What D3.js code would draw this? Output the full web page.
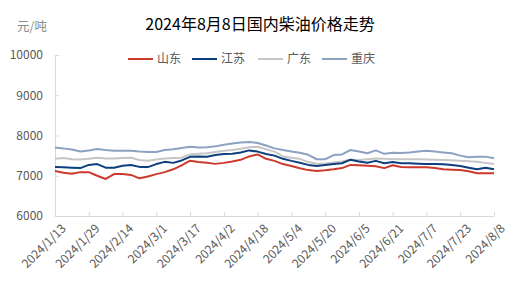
<!DOCTYPE html>
<html lang="zh">
<head>
    <meta charset="UTF-8">
    <title>2024年8月8日国内柴油价格走势</title>
    <script src="https://d3js.org/d3.v7.min.js"></script>
    <style>
        body { margin: 0; background: #fff; }
        text { font-family: "Noto Sans CJK SC", "Noto Sans", sans-serif; }
        .axis path, .axis line { stroke: #d9d9d9; }
        .axis text { fill: #595959; font-size: 12px; }
        .series { fill: none; stroke-width: 2; stroke-linejoin: round; }
    </style>
</head>
<body>
<svg width="521" height="295"></svg>

<script>
    // sample dates: every 4 days from 2024/1/13 to 2024/8/8
    const startDate = new Date(2024, 0, 13);
    const endDate   = new Date(2024, 7, 8);
    const dates = d3.timeDay.range(startDate, d3.timeDay.offset(endDate, 1), 4);

    const tickLabels = ["2024/1/13", "2024/1/29", "2024/2/14", "2024/3/1", "2024/3/17",
                        "2024/4/2", "2024/4/18", "2024/5/4", "2024/5/20", "2024/6/5",
                        "2024/6/21", "2024/7/7", "2024/7/23", "2024/8/8"];

    const seriesNames = ["山东", "江苏", "广东", "重庆"];

    const shandong = [7118, 7076, 7050, 7090, 7090, 7000, 6920, 7043, 7043, 7020,
                      6936, 6980, 7040, 7090, 7160, 7260, 7374, 7340, 7324, 7295,
                      7320, 7355, 7395, 7480, 7530, 7420, 7370, 7290, 7240, 7185,
                      7140, 7118, 7135, 7160, 7190, 7270, 7260, 7250, 7235, 7190,
                      7260, 7220, 7210, 7210, 7209, 7190, 7160, 7150, 7143, 7110,
                      7060, 7065, 7060];
    const jiangsu  = [7215, 7210, 7200, 7190, 7270, 7290, 7200, 7200, 7250, 7265,
                      7220, 7215, 7290, 7345, 7320, 7380, 7470, 7480, 7474, 7515,
                      7540, 7545, 7580, 7630, 7600, 7540, 7500, 7420, 7370, 7325,
                      7270, 7245, 7270, 7290, 7310, 7400, 7355, 7325, 7370, 7310,
                      7340, 7310, 7310, 7300, 7290, 7290, 7283, 7265, 7242, 7200,
                      7160, 7200, 7160];
    const guangdong = [7425, 7440, 7410, 7405, 7425, 7450, 7430, 7430, 7440, 7445,
                       7390, 7375, 7405, 7430, 7440, 7450, 7530, 7545, 7557, 7590,
                       7620, 7640, 7670, 7710, 7720, 7660, 7600, 7480, 7450, 7420,
                       7340, 7300, 7305, 7330, 7355, 7400, 7390, 7410, 7430, 7420,
                       7416, 7410, 7408, 7408, 7405, 7400, 7391, 7385, 7374, 7360,
                       7350, 7320, 7290];
    const chongqing = [7700, 7680, 7650, 7605, 7630, 7665, 7640, 7620, 7622, 7620,
                       7600, 7590, 7590, 7640, 7660, 7690, 7720, 7700, 7710, 7730,
                       7772, 7800, 7825, 7840, 7815, 7750, 7680, 7640, 7605, 7570,
                       7520, 7410, 7410, 7515, 7530, 7640, 7600, 7560, 7630, 7545,
                       7570, 7565, 7575, 7600, 7620, 7600, 7580, 7560, 7500, 7460,
                       7470, 7475, 7435];

    const yTicks = [6000, 7000, 8000, 9000, 10000];
    const colors = ["#cc3a2c", "#0d3f7e", "#c6c6c6", "#8da2c0"];

    const series = [shandong, jiangsu, guangdong, chongqing].map((vals, i) => ({
        name: seriesNames[i],
        color: colors[i],
        values: vals.map((v, j) => ({date: dates[j], value: v}))
    }));

    const svg = d3.select("svg");
    const parse = d3.timeParse("%Y/%m/%d");

    const x = d3.scaleTime()
        .domain([startDate, endDate])
        .range([55, 494]);
    const y = d3.scaleLinear()
        .domain([6000, 10000])
        .range([216, 55]);

    // title + unit
    svg.append("text")
       .attr("x", 260).attr("y", 30)
       .attr("text-anchor", "middle")
       .style("font-size", "16px").style("fill", "#000")
       .text("2024年8月8日国内柴油价格走势");
    svg.append("text")
       .attr("x", 17).attr("y", 31)
       .style("font-size", "12.5px").style("fill", "#8c8c8c")
       .text("元/吨");

    // y axis
    const yAxis = svg.append("g").attr("class", "axis")
        .attr("transform", "translate(55,0)")
        .call(d3.axisLeft(y).tickValues(yTicks).tickFormat(d3.format("d"))
            .tickSize(-4).tickPadding(12).tickSizeOuter(0));

    // x axis
    const xAxis = svg.append("g").attr("class", "axis")
        .attr("transform", "translate(0,216)")
        .call(d3.axisBottom(x)
            .tickValues(tickLabels.map(parse))
            .tickSize(-4).tickSizeOuter(0)
            .tickFormat((d, i) => tickLabels[i]));
    xAxis.selectAll("text")
        .attr("text-anchor", "end")
        .attr("transform", "translate(4,6) rotate(-45)")
        .attr("dy", "0.35em")
        .attr("y", 6);

    // lines
    const line = d3.line()
        .x(d => x(d.date))
        .y(d => y(d.value));

    svg.selectAll("path.series")
       .data(series.slice().reverse())
       .join("path").attr("class", "series")
         .attr("stroke", d => d.color)
         .attr("d", d => line(d.values));

    // legend
    const legendX = [128, 192, 258, 322];
    const legend = svg.selectAll("g.legend")
        .data(series)
        .join("g").attr("class", "legend")
          .attr("transform", (d, i) => `translate(${legendX[i]},59)`);
    legend.append("line")
        .attr("x1", 0).attr("x2", 25)
        .attr("stroke", d => d.color).attr("stroke-width", 2);
    legend.append("text")
        .attr("x", 29).attr("dy", "0.35em")
        .style("font-size", "12px").style("fill", "#595959")
        .text(d => d.name);
</script>
</body>
</html>
